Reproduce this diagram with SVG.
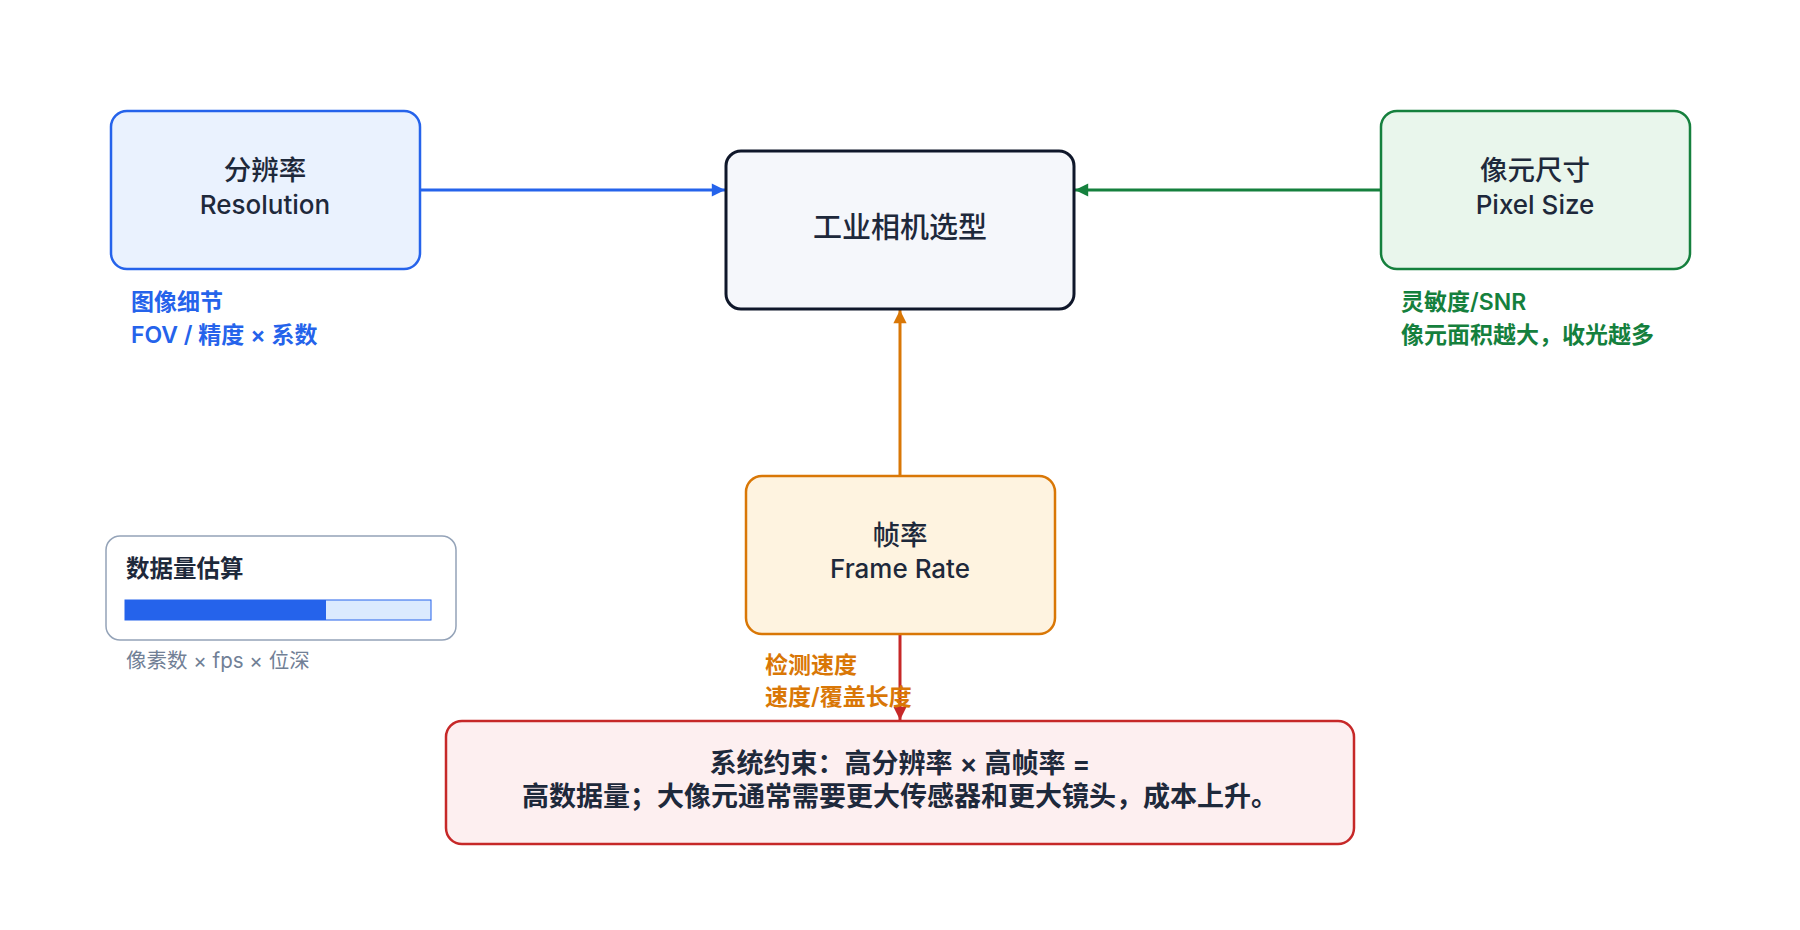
<svg xmlns="http://www.w3.org/2000/svg" width="1800" height="930" viewBox="0 0 1800 930">
<defs>
<style>
text{font-family:Inter,"Noto Sans CJK SC","Noto Sans",sans-serif;}
.title{font-size:26px;font-weight:500;fill:#1e293b;text-anchor:middle;}
.cjk{font-size:27.5px;}
.lbl{font-size:23px;font-weight:600;}
.node{stroke-width:2.5;}
</style>
<marker id="ahB" viewBox="0 0 10 10" refX="10" refY="5" markerWidth="5" markerHeight="4.4" orient="auto"><path d="M0,0L10,5L0,10z" fill="#2563eb"/></marker>
<marker id="ahG" viewBox="0 0 10 10" refX="10" refY="5" markerWidth="5" markerHeight="4.4" orient="auto"><path d="M0,0L10,5L0,10z" fill="#15803d"/></marker>
<marker id="ahO" viewBox="0 0 10 10" refX="10" refY="5" markerWidth="5" markerHeight="4.4" orient="auto"><path d="M0,0L10,5L0,10z" fill="#d97706"/></marker>
<marker id="ahR" viewBox="0 0 10 10" refX="10" refY="5" markerWidth="5" markerHeight="4.4" orient="auto"><path d="M0,0L10,5L0,10z" fill="#c62828"/></marker>
</defs>
<rect width="1800" height="930" fill="#ffffff"/>
<g id="connectors" stroke-width="3" fill="none">
<line x1="420" y1="190" x2="725" y2="190" stroke="#2563eb" marker-end="url(#ahB)"/>
<line x1="1380" y1="190" x2="1075" y2="190" stroke="#15803d" marker-end="url(#ahG)"/>
<line x1="900" y1="475" x2="900" y2="310" stroke="#d97706" marker-end="url(#ahO)"/>
<line x1="900" y1="635" x2="900" y2="720" stroke="#c62828" marker-end="url(#ahR)"/>
</g>
<g id="center">
<rect x="726" y="151" width="348" height="158" rx="15" fill="#f5f7fb" stroke="#0f172a" stroke-width="3"/>
<text class="title" x="900" y="238" style="font-size:29px">工业相机选型</text>
</g>
<g id="resolution">
<rect class="node" x="111" y="111" width="309" height="158" rx="16" fill="#eaf2fe" stroke="#2563eb"/>
<text class="title cjk" x="265" y="180">分辨率</text>
<text class="title" x="265" y="214">Resolution</text>
<text class="lbl" x="131" y="310" fill="#2563eb">图像细节</text>
<text class="lbl" x="131" y="343" fill="#2563eb">FOV / 精度 × 系数</text>
</g>
<g id="pixelsize">
<rect class="node" x="1381" y="111" width="309" height="158" rx="16" fill="#e9f6ec" stroke="#15803d"/>
<text class="title cjk" x="1535" y="180">像元尺寸</text>
<text class="title" x="1535" y="214">Pixel Size</text>
<text class="lbl" x="1401" y="310" fill="#15803d">灵敏度/SNR</text>
<text class="lbl" x="1401" y="343" fill="#15803d">像元面积越大，收光越多</text>
</g>
<g id="framerate">
<rect class="node" x="746" y="476" width="309" height="158" rx="16" fill="#fef3e0" stroke="#d97706"/>
<text class="title cjk" x="900" y="545">帧率</text>
<text class="title" x="900" y="578">Frame Rate</text>
<text class="lbl" x="765" y="673" fill="#d97706">检测速度</text>
<text class="lbl" x="765" y="705" fill="#d97706">速度/覆盖长度</text>
</g>
<g id="constraint">
<rect class="node" x="446" y="721" width="908" height="123" rx="16" fill="#fdeff0" stroke="#c62828"/>
<text class="title" x="900" y="773" style="font-size:27px;font-weight:600">系统约束：高分辨率 × 高帧率 =</text>
<text class="title" x="900" y="806" style="font-size:27px;font-weight:600">高数据量；大像元通常需要更大传感器和更大镜头，成本上升。</text>
</g>
<g id="datavolume">
<rect x="106" y="536" width="350" height="104" rx="14" fill="#ffffff" stroke="#94a3b8" stroke-width="1.5"/>
<text x="126" y="577" style="font-size:23.5px;font-weight:700;fill:#1e293b">数据量估算</text>
<rect x="125" y="600" width="306" height="20" fill="#dbeafe" stroke="#2563eb" stroke-width="1"/>
<rect x="125" y="600" width="201" height="20" fill="#2563eb"/>
<text x="126" y="668" style="font-size:20.5px;fill:#718096">像素数 × fps × 位深</text>
</g>
</svg>
